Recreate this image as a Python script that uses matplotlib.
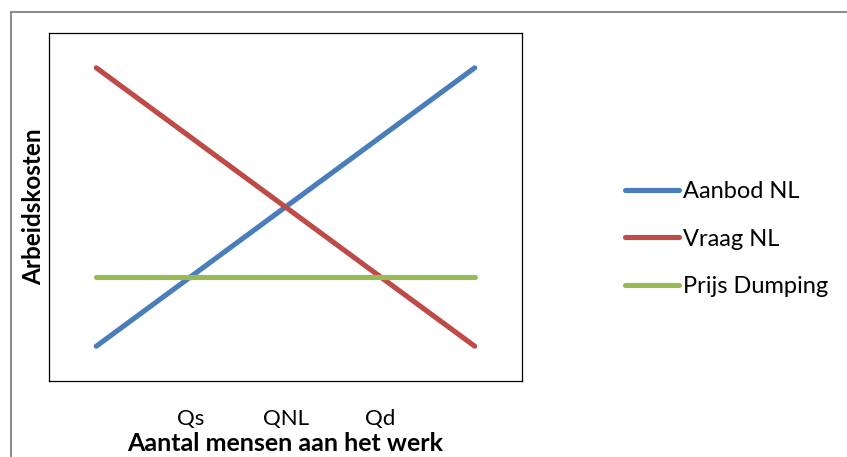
import matplotlib
matplotlib.use("Agg")
import matplotlib.pyplot as plt
from matplotlib.patches import Rectangle

plt.rcParams['font.family'] = ['Lato', 'DejaVu Sans']

# categories on x axis (first and last are unlabeled)
categories = ["", "Qs", "QNL", "Qd", ""]
aanbod = [1, 2, 3, 4, 5]
vraag = [5, 4, 3, 2, 1]
dumping = [2, 2, 2, 2, 2]

W, H = 847, 457
fig = plt.figure(figsize=(W / 100, H / 100), dpi=100)

# outer chart frame (cut off at the right and bottom)
fig.patches.append(Rectangle((11 / W, -0.1), 1.2, 1 - 12 / H + 0.1,
                             transform=fig.transFigure, fill=False,
                             edgecolor='#8c8c8c', linewidth=1.5))

ax = fig.add_axes([49 / W, (H - 381) / H, 473 / W, 348 / H])
x = range(len(categories))
kw = dict(linewidth=3.7, solid_capstyle='round')
ax.plot(x, aanbod, color='#4A7EBB', label='Aanbod NL', **kw)
ax.plot(x, vraag, color='#BE4B48', label='Vraag NL', **kw)
ax.plot(x, dumping, color='#98B954', label='Prijs Dumping', **kw)

ax.set_xlim(-0.5, 4.5)
ax.set_ylim(0.5, 5.5)
ax.set_xticks(list(x))
ax.set_xticklabels(categories, fontsize=16)
ax.set_yticks([])
ax.tick_params(axis='x', length=0, pad=20.5)
for s in ax.spines.values():
    s.set_linewidth(0.9)
    s.set_color('black')

ax.set_xlabel('Aantal mensen aan het werk', fontsize=18, fontweight='bold', labelpad=1.5)
ax.set_ylabel('Arbeidskosten', fontsize=17.5, fontweight='bold', labelpad=3)

leg = fig.legend(loc='center left', bbox_to_anchor=(625 / W, 1 - 239 / H),
                 frameon=False, fontsize=17, handlelength=2.3,
                 borderpad=0, borderaxespad=0,
                 handletextpad=0.17, labelspacing=1.13)

fig.savefig('out.png', dpi=100)
